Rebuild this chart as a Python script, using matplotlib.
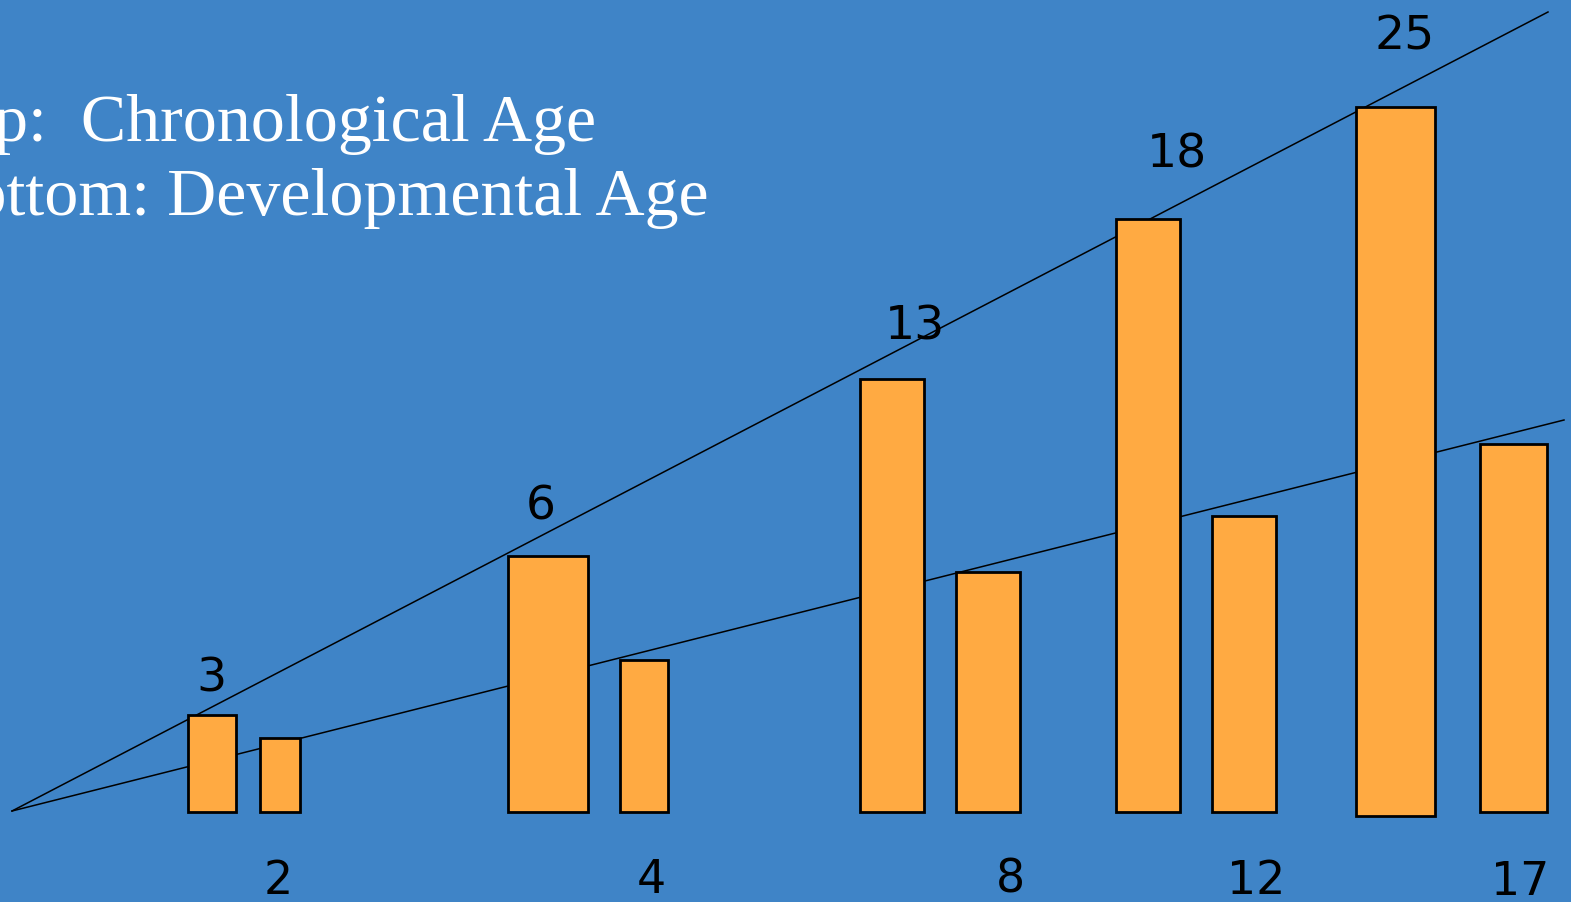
import matplotlib
matplotlib.use("Agg")
import matplotlib.pyplot as plt

# ---- data ----
chronological_age = [3, 6, 13, 18, 25]
developmental_age = [2, 4, 8, 12, 17]
# bar heights as drawn on the slide (display units above baseline)
chrono_heights = [97, 256, 433, 593, 709]
chrono_bottoms = [0, 0, 0, 0, -4]
devel_heights = [74, 152, 240, 296, 368]
# horizontal positions of bars (centres) and widths
chrono_x = [212, 548, 892, 1148, 1396]
chrono_w = [48, 80, 64, 64, 79]
devel_x = [280, 644, 988, 1244, 1514]
devel_w = [40, 48, 64, 64, 67]
# trend lines (start, end)
top_line_x = [12, 1548]
top_line_y = [1, 800]
bottom_line_x = [12, 1564]
bottom_line_y = [1, 392]
# label placements
chrono_label_x = [211, 541, 915, 1177, 1405]
chrono_label_y = [121, 293, 473, 645, 764]
devel_label_x = [278, 651, 1010, 1256, 1520]
devel_label_y = [-81, -80, -80, -81, -82]

BG = "#3F84C7"
ORANGE = "#FFAA42"

fig = plt.figure(figsize=(15.71, 9.03), dpi=100)
fig.patch.set_facecolor(BG)
ax = fig.add_axes([0, 0, 1, 1])
ax.set_facecolor(BG)
ax.set_xlim(0, 1571)
ax.set_ylim(813 - 903, 813)
ax.axis("off")

ax.plot(top_line_x, top_line_y, color="black", lw=1.1, zorder=1)
ax.plot(bottom_line_x, bottom_line_y, color="black", lw=1.1, zorder=1)

ax.bar(chrono_x, chrono_heights, width=chrono_w, bottom=chrono_bottoms,
       color=ORANGE, edgecolor="black", linewidth=2.0, zorder=2)
ax.bar(devel_x, devel_heights, width=devel_w,
       color=ORANGE, edgecolor="black", linewidth=2.0, zorder=2)

for x, y, s in zip(chrono_label_x, chrono_label_y, chronological_age):
    ax.text(x, y, str(s), ha="center", va="baseline", fontsize=34,
            family="DejaVu Sans", color="black", zorder=3)
for x, y, s in zip(devel_label_x, devel_label_y, developmental_age):
    ax.text(x, y, str(s), ha="center", va="baseline", fontsize=33,
            family="DejaVu Sans", color="black", zorder=3)

ax.text(596, 813 - 141, "Top:  Chronological Age", ha="right", va="baseline",
        fontsize=49, family="Liberation Serif", color="white")
ax.text(709, 813 - 215, "Bottom: Developmental Age", ha="right", va="baseline",
        fontsize=49, family="Liberation Serif", color="white")

fig.savefig("out.png", dpi=100, facecolor=BG)
